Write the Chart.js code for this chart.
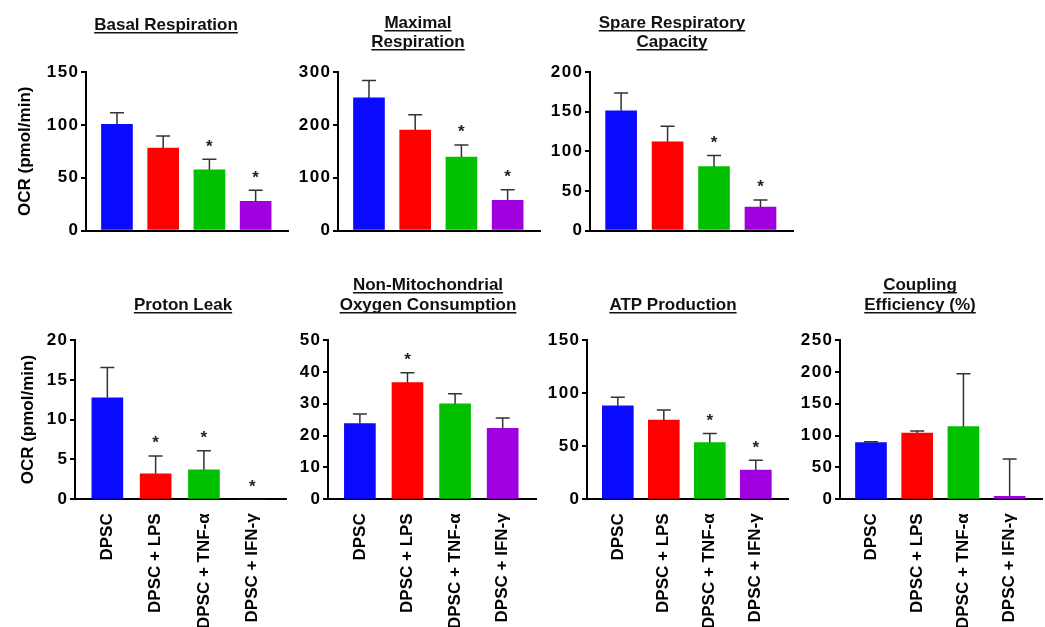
<!DOCTYPE html>
<html>
<head>
<meta charset="utf-8">
<script src="https://cdn.jsdelivr.net/npm/chart.js@4.4.1/dist/chart.umd.min.js"></script>
<style>
  body { margin: 0; background: #fff; width: 1045px; height: 627px; overflow: hidden; position: relative; }
  canvas { position: absolute; }
</style>
</head>
<body>
<script>
// groups on the x axis
const categories = ['DPSC', 'DPSC + LPS', 'DPSC + TNF-\u03b1', 'DPSC + IFN-\u03b3'];
const barColors = ['#0a0aff', '#ff0000', '#00c000', '#a000e0'];

// mean and upper error (SEM) for each panel
const basalMean = [100.5, 78, 57.5, 27.5];
const basalErr = [11, 11.5, 10, 10.5];
const basalStars = [false, false, true, true];

const maximalMean = [251, 190, 139, 57];
const maximalErr = [33, 29, 23, 20];
const maximalStars = [false, false, true, true];

const spareMean = [151, 112, 80.5, 29.5];
const spareErr = [22.5, 19.5, 14, 9];
const spareStars = [false, false, true, true];

const protonMean = [12.75, 3.2, 3.7, 0];
const protonErr = [3.8, 2.25, 2.4, 0];
const protonStars = [false, true, true, true];

const nonMitoMean = [23.8, 36.6, 30, 22.3];
const nonMitoErr = [3, 3.1, 3.1, 3.2];
const nonMitoStars = [false, true, false, false];

const atpMean = [88, 74.5, 53.5, 27.5];
const atpErr = [8, 9.5, 8.5, 9.3];
const atpStars = [false, false, true, true];

const couplingMean = [89, 104, 114, 4.7];
const couplingErr = [1.5, 3, 83, 58.5];
const couplingStars = [false, false, false, false];

// y axis ranges
const yMaxes = [150, 300, 200, 20, 50, 150, 250];
const ySteps = [50, 100, 50, 5, 10, 50, 50];

const panels = [
  { title: ['Basal Respiration'], mean: basalMean, err: basalErr, stars: basalStars, yTitle: 'OCR (pmol/min)' },
  { title: ['Maximal', 'Respiration'], mean: maximalMean, err: maximalErr, stars: maximalStars },
  { title: ['Spare Respiratory', 'Capacity'], mean: spareMean, err: spareErr, stars: spareStars },
  { title: ['Proton Leak'], mean: protonMean, err: protonErr, stars: protonStars, yTitle: 'OCR (pmol/min)', showX: true },
  { title: ['Non-Mitochondrial', 'Oxygen Consumption'], mean: nonMitoMean, err: nonMitoErr, stars: nonMitoStars, showX: true },
  { title: ['ATP Production'], mean: atpMean, err: atpErr, stars: atpStars, showX: true },
  { title: ['Coupling', 'Efficiency (%)'], mean: couplingMean, err: couplingErr, stars: couplingStars, showX: true }
];

// page layout (pixels)
const rows = [
  { top: 0, h: 250, T: 72, B: 230.5 },
  { top: 260, h: 367, T: 340, B: 499.3 }
];
const frames = [
  { row: 0, L: 86, R: 288, cx: 0, tx: 166, base: [30], yPad: 15 },
  { row: 0, L: 338, R: 540, cx: 278, tx: 418, base: [28, 47] },
  { row: 0, L: 590, R: 793, cx: 530, tx: 672, base: [28, 47] },
  { row: 1, L: 75, R: 286, cx: 0, tx: 183, base: [310], yPad: 18 },
  { row: 1, L: 328, R: 536, cx: 268, tx: 428, base: [290, 310] },
  { row: 1, L: 587, R: 788, cx: 527, tx: 673, base: [310] },
  { row: 1, L: 840, R: 1042, cx: 780, tx: 920, base: [290, 310] }
];

const FONT = "'Liberation Sans', Arial, sans-serif";

function spaced(v) {
  return String(v).split('').join('\u200a');
}

// error bars, significance stars and underlined panel titles
function decorations(panel, frame, row) {
  return {
    id: 'decorations',
    afterDatasetsDraw(chart) {
      const ctx = chart.ctx;
      const meta = chart.getDatasetMeta(0);
      const y = chart.scales.y;
      ctx.save();
      panel.mean.forEach((m, i) => {
        const bar = meta.data[i];
        const top = y.getPixelForValue(m + panel.err[i]);
        if (panel.err[i] > 0) {
          ctx.strokeStyle = '#333';
          ctx.lineWidth = 1.5;
          ctx.beginPath();
          ctx.moveTo(bar.x, bar.y);
          ctx.lineTo(bar.x, top);
          ctx.moveTo(bar.x - 7, top);
          ctx.lineTo(bar.x + 7, top);
          ctx.stroke();
        }
        if (panel.stars[i]) {
          ctx.fillStyle = '#222';
          ctx.font = 'bold 17px ' + FONT;
          ctx.textAlign = 'center';
          ctx.textBaseline = 'alphabetic';
          ctx.fillText('*', bar.x, top - 7.5);
        }
      });
      ctx.restore();
    },
    afterDraw(chart) {
      const ctx = chart.ctx;
      ctx.save();
      ctx.fillStyle = '#111';
      ctx.font = 'bold 17px ' + FONT;
      ctx.textAlign = 'center';
      ctx.textBaseline = 'alphabetic';
      panel.title.forEach((line, k) => {
        const x = frame.tx - frame.cx;
        const yy = frame.base[k] - row.top;
        ctx.fillText(line, x, yy);
        const w = ctx.measureText(line).width;
        ctx.fillRect(x - w / 2, yy + 2, w, 1.5);
      });
      ctx.restore();
    }
  };
}

panels.forEach((panel, p) => {
  const frame = frames[p];
  const row = rows[frame.row];
  const canvas = document.createElement('canvas');
  const width = frame.R - frame.cx + 3;
  canvas.width = width;
  canvas.height = row.h;
  canvas.style.left = frame.cx + 'px';
  canvas.style.top = row.top + 'px';
  document.body.appendChild(canvas);

  new Chart(canvas.getContext('2d'), {
    type: 'bar',
    data: {
      datasets: [{
        data: panel.mean.map((v, i) => ({ x: i, y: v })),
        backgroundColor: barColors,
        borderWidth: 0,
        barThickness: 31
      }]
    },
    options: {
      responsive: false,
      animation: false,
      events: [],
      layout: { padding: { left: 0, right: 3, top: row.T - row.top, bottom: 0 } },
      plugins: { legend: { display: false }, tooltip: { enabled: false } },
      scales: {
        x: {
          type: 'linear',
          offset: false,
          min: -0.67,
          max: 3.7,
          afterBuildTicks: scale => { scale.ticks = categories.map((c, i) => ({ value: i })); },
          afterFit: scale => { scale.height = row.h - (row.B - row.top); },
          grid: { display: false, drawTicks: false },
          border: { display: true, color: '#000', width: 2 },
          ticks: {
            display: !!panel.showX,
            autoSkip: false,
            minRotation: 90,
            maxRotation: 90,
            padding: 14,
            color: '#000',
            font: { family: FONT, size: 17, weight: 'bold' },
            callback: v => categories[v]
          }
        },
        y: {
          min: 0,
          max: yMaxes[p],
          afterFit: scale => { scale.width = frame.L - frame.cx; },
          grid: { drawOnChartArea: false, drawTicks: true, tickLength: 5, color: '#000', lineWidth: 2 },
          border: { display: true, color: '#000', width: 2 },
          ticks: {
            stepSize: ySteps[p],
            padding: 3,
            color: '#000',
            font: { family: FONT, size: 17, weight: 'bold' },
            callback: v => spaced(v)
          },
          title: {
            display: !!panel.yTitle,
            text: panel.yTitle || '',
            color: '#000',
            font: { family: FONT, size: 17, weight: 'bold' },
            padding: { top: frame.yPad || 0, bottom: 0 }
          }
        }
      }
    },
    plugins: [decorations(panel, frame, row)]
  });
});
</script>
</body>
</html>
